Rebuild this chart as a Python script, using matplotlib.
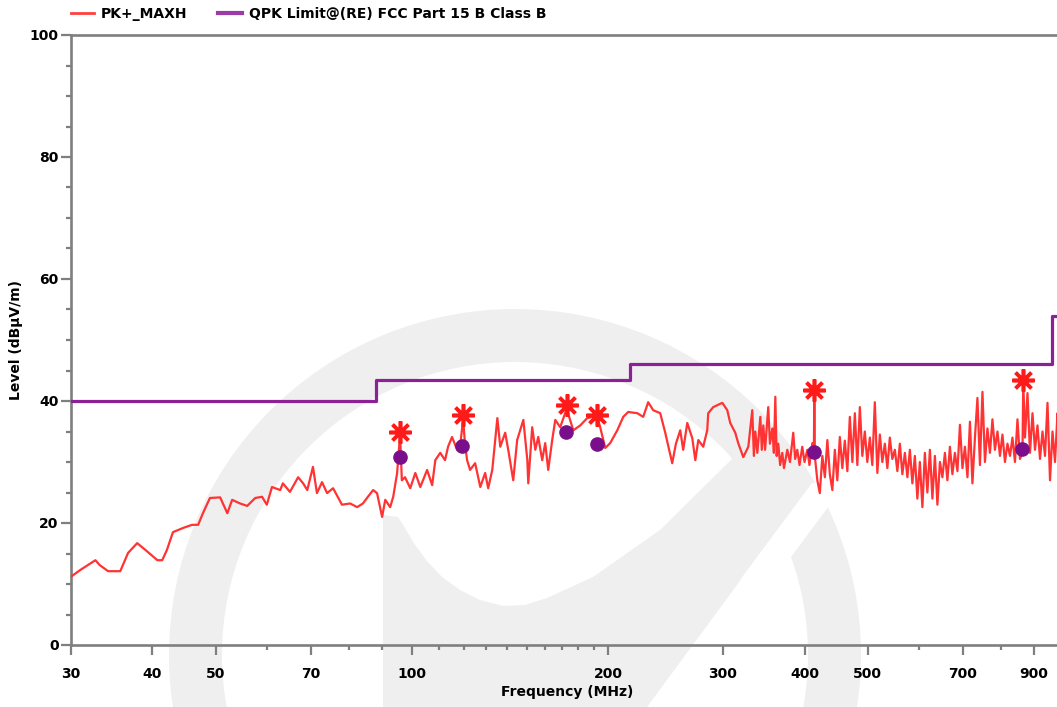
import matplotlib
matplotlib.use("Agg")
import matplotlib.pyplot as plt
from matplotlib.patches import Wedge, Polygon
from matplotlib.lines import Line2D

trace_freq = [30.0, 31.0, 32.7, 33.2, 34.2, 35.7, 36.7, 37.9, 39.0, 40.7, 41.4, 42.1, 43.0, 44.6,
              46.0, 47.0, 47.8, 49.0, 50.8, 52.1, 53.0, 54.5, 55.9, 57.5, 58.9, 59.9, 61.0, 62.8,
              63.4, 65.0, 66.9, 68.1, 69.1, 70.5, 71.5, 72.8, 74.1, 75.7, 78.1, 80.4, 82.4, 84.1,
              85.6, 87.2, 88.4, 90.0, 91.0, 92.6, 93.6, 94.9, 95.9, 96.5, 97.6, 99.4, 101.2, 103.0,
              105.5, 107.4, 108.6, 110.5, 112.4, 113.6, 115.2, 117.3, 118.6, 119.8, 120.6, 121.5,
              122.8, 125.0, 127.3, 129.5, 130.9, 132.8, 135.2, 136.6, 139.0, 140.5, 143.0, 145.0,
              148.2, 150.3, 150.8, 152.9, 154.6, 156.2, 158.4, 160.1, 161.8, 164.1, 165.9, 168.8,
              172.7, 176.8, 181.2, 185.7, 189.7, 192.4, 194.4, 197.9, 201.4, 206.5, 210.9, 214.6,
              221.6, 226.3, 230.3, 234.4, 240.3, 244.6, 250.7, 254.0, 257.9, 260.6, 264.4, 269.1,
              272.0, 274.9, 279.7, 283.7, 284.7, 289.8, 299.2, 304.5, 307.7, 313.2, 316.5, 322.2,
              328.0, 332.6, 334.5, 336.2, 338.6, 342.2, 344.0, 345.8, 348.0, 351.9, 354.0, 357.0,
              359.0, 360.8, 362.5, 364.6, 367.0, 369.8, 372.0, 376.4, 380.0, 384.4, 387.0, 389.9,
              393.0, 396.8, 400.0, 404.0, 407.0, 411.2, 413.4, 414.1, 414.8, 418.5, 422.2, 426.0,
              429.8, 433.6, 437.4, 441.3, 445.2, 449.1, 453.1, 457.1, 461.2, 465.3, 469.4, 473.6,
              477.8, 482.0, 486.3, 490.6, 494.9, 499.3, 503.8, 508.2, 512.7, 517.3, 521.9, 526.5,
              531.2, 535.9, 540.6, 545.4, 550.3, 555.2, 560.1, 565.1, 570.1, 575.2, 580.3, 585.4,
              590.6, 595.8, 601.1, 606.5, 611.8, 617.3, 622.8, 628.3, 633.9, 639.5, 645.2, 650.9,
              656.7, 662.5, 668.4, 674.3, 680.3, 686.4, 692.5, 698.6, 704.8, 711.1, 717.4, 723.7,
              730.2, 736.6, 743.2, 749.8, 756.4, 763.1, 769.9, 776.7, 783.6, 790.6, 797.6, 804.7,
              811.8, 819.0, 826.3, 833.6, 841.0, 848.5, 856.0, 863.6, 866.0, 871.3, 879.0, 886.8,
              894.7, 902.6, 910.6, 918.7, 926.9, 935.1, 943.4, 951.8, 960.2, 968.7, 977.3, 986.0,
              994.7, 1000.0]
trace_level = [11.2, 12.3, 13.9, 13.1, 12.1, 12.1, 15.1, 16.7, 15.6, 13.9, 13.9, 15.6, 18.5, 19.2,
               19.7, 19.7, 21.6, 24.1, 24.2, 21.6, 23.8, 23.2, 22.8, 24.1, 24.3, 23.0, 25.9, 25.4,
               26.5, 25.1, 27.5, 26.5, 25.4, 29.2, 24.9, 26.7, 24.9, 25.7, 23.0, 23.2, 22.6, 23.2,
               24.3, 25.4, 24.9, 21.0, 23.8, 22.6, 24.3, 28.2, 34.5, 27.0, 27.5, 25.7, 28.2, 25.9,
               28.7, 26.2, 30.3, 31.5, 30.3, 32.5, 34.1, 32.0, 32.8, 37.0, 33.0, 30.3,
               28.7, 29.8, 25.9, 28.2, 25.7, 28.7, 37.2, 32.5, 34.8, 32.0, 27.0, 33.6,
               36.9, 30.3, 26.5, 35.7, 32.0, 34.1, 30.3, 33.1, 28.7, 33.6, 36.9, 35.7,
               38.7, 35.2, 36.0, 37.2, 37.4, 37.4, 35.7, 32.3, 33.1, 35.2, 37.4, 38.2,
               38.0, 37.4, 39.8, 38.5, 38.0, 34.8, 29.8, 33.0, 35.2, 32.0, 36.4, 33.9,
               30.3, 33.6, 32.5, 35.2, 38.0, 39.0, 39.7, 38.5, 36.4, 34.8, 33.1, 30.8,
               32.5, 38.5, 31.0, 35.0, 31.5, 37.4, 32.0, 36.0, 32.0, 39.0, 33.0, 35.5,
               31.5, 40.7, 31.0, 33.0, 29.5, 31.5, 29.0, 32.0, 30.0, 34.8, 30.5, 32.0,
               29.5, 32.5, 30.0, 32.0, 29.5, 33.1, 31.5, 41.8, 31.0, 27.0, 24.9, 31.0,
               27.5, 33.6, 28.0, 25.4, 32.0, 27.0, 34.1, 29.0, 33.5, 28.5, 37.4, 30.0,
               38.0, 29.5, 39.0, 31.0, 35.0, 30.0, 34.0, 29.5, 39.8, 28.2, 34.5, 30.0,
               33.0, 29.0, 34.0, 30.5, 32.0, 28.5, 33.0, 28.0, 31.5, 27.5, 32.0, 26.5,
               31.0, 24.0, 30.0, 22.6, 31.5, 25.0, 32.0, 24.0, 31.0, 23.0, 30.0, 27.5,
               31.5, 27.0, 32.5, 28.0, 31.5, 28.5, 36.1, 29.0, 32.5, 27.5, 36.6, 26.5,
               34.0, 40.5, 29.5, 41.5, 30.0, 35.5, 31.5, 37.0, 32.0, 35.0, 31.0, 34.5,
               30.0, 33.0, 31.0, 34.0, 30.0, 37.0, 30.5, 31.5, 43.2, 34.0, 41.3, 31.5,
               38.0, 32.0, 36.0, 30.5, 35.0, 31.0, 39.7, 27.0, 35.0, 30.0, 38.0, 32.0,
               36.0, 33.0]

# FCC Part 15 B class B QP limit
limit_freq = [30, 88, 216, 960, 1000]
limit_level = [40, 43.5, 46, 54, 54]

# final peak / quasi-peak readings
peak_freq = [95.9, 119.6, 172.7, 192.4, 414.1, 866.0]
peak_level = [34.9, 37.7, 39.3, 37.7, 41.8, 43.4]
qp_freq = [95.9, 119.4, 172.5, 192.4, 414.1, 863.3]
qp_level = [30.8, 32.6, 34.9, 33.0, 31.6, 32.1]

xticks_major = [30, 40, 50, 70, 100, 200, 300, 400, 500, 700, 900]
xticks_minor = [60, 80, 90, 110, 120, 130, 140, 150, 160, 170, 180, 190, 600, 800, 1000]

W, H = 1057, 707
fig = plt.figure(figsize=(W / 100, H / 100), dpi=100)

# watermark logo behind everything (pixel coords)
bg = fig.add_axes([0, 0, 1, 1], zorder=0)
bg.set_xlim(0, W)
bg.set_ylim(H, 0)
bg.axis("off")
wm = "#efefef"
bg.add_patch(Wedge((515, 655), 346, 0, 360, width=53, color=wm, lw=0))
bg.add_patch(Polygon([(383, 515), (398, 517), (405, 528), (415, 545), (427, 561), (442, 577),
                      (460, 590), (480, 600), (503, 606), (525, 605), (547, 598), (593, 577),
                      (660, 530), (733, 458), (760, 430), (800, 470), (807, 490), (647, 707),
                      (383, 707)], closed=True, color=wm, lw=0))
bg.add_patch(Polygon([(812, 483), (846, 483), (774, 580), (740, 580)], closed=True,
                     color="white", lw=0))

ax = fig.add_axes([71 / W, 62 / H, (1064 - 71) / W, 610 / H], zorder=1)
ax.set_facecolor("none")

ax.plot(trace_freq, trace_level, color="#ff3333", lw=1.6, zorder=3)
ax.plot(limit_freq, limit_level, color="#8c2196", lw=2.3, drawstyle="steps-post", zorder=4)
ax.plot(peak_freq, peak_level, ls="none", marker=(8, 2, 0), ms=16, mew=2.6,
        color="#ff1a1a", zorder=5)
ax.plot(qp_freq, qp_level, ls="none", marker="o", ms=9.5, color="#7a0f8c", zorder=6)

ax.set_xscale("log")
ax.set_xlim(30, 1000)
ax.set_ylim(0, 100)
ax.set_xticks(xticks_major)
ax.set_xticklabels([str(v) for v in xticks_major])
ax.set_xticks(xticks_minor, minor=True)
ax.set_xticklabels([], minor=True)
ax.set_yticks(range(0, 101, 20))
ax.set_yticks(range(0, 101, 5), minor=True)

grey = "#7f7f7f"
for s in ax.spines.values():
    s.set_color(grey)
    s.set_linewidth(1.9)
ax.tick_params(which="major", length=7, width=1.6, color=grey, labelsize=10, pad=9)
ax.tick_params(which="minor", length=3.5, width=1.6, color=grey)
ax.tick_params(axis="y", which="major", pad=2)
for lab in ax.get_xticklabels() + ax.get_yticklabels():
    lab.set_fontweight("bold")

ax.set_xlabel("Frequency (MHz)", fontsize=10, fontweight="bold")
ax.set_ylabel("Level (dBμV/m)", fontsize=10, fontweight="bold")
ax.xaxis.set_label_coords(0.5, -0.066)
ax.yaxis.set_label_coords(-0.048, 0.5)

handles = [Line2D([], [], color="#ff4040", lw=2),
           Line2D([], [], color="#9c3aa8", lw=3)]
fig.legend(handles, ["PK+_MAXH", "QPK Limit@(RE) FCC Part 15 B Class B"],
           loc="upper left", bbox_to_anchor=(58 / W, 1.008), ncol=2, frameon=False,
           handlelength=1.7, handletextpad=0.5, columnspacing=2.2,
           prop={"size": 10, "weight": "bold"})

fig.savefig("out.png", dpi=100)
